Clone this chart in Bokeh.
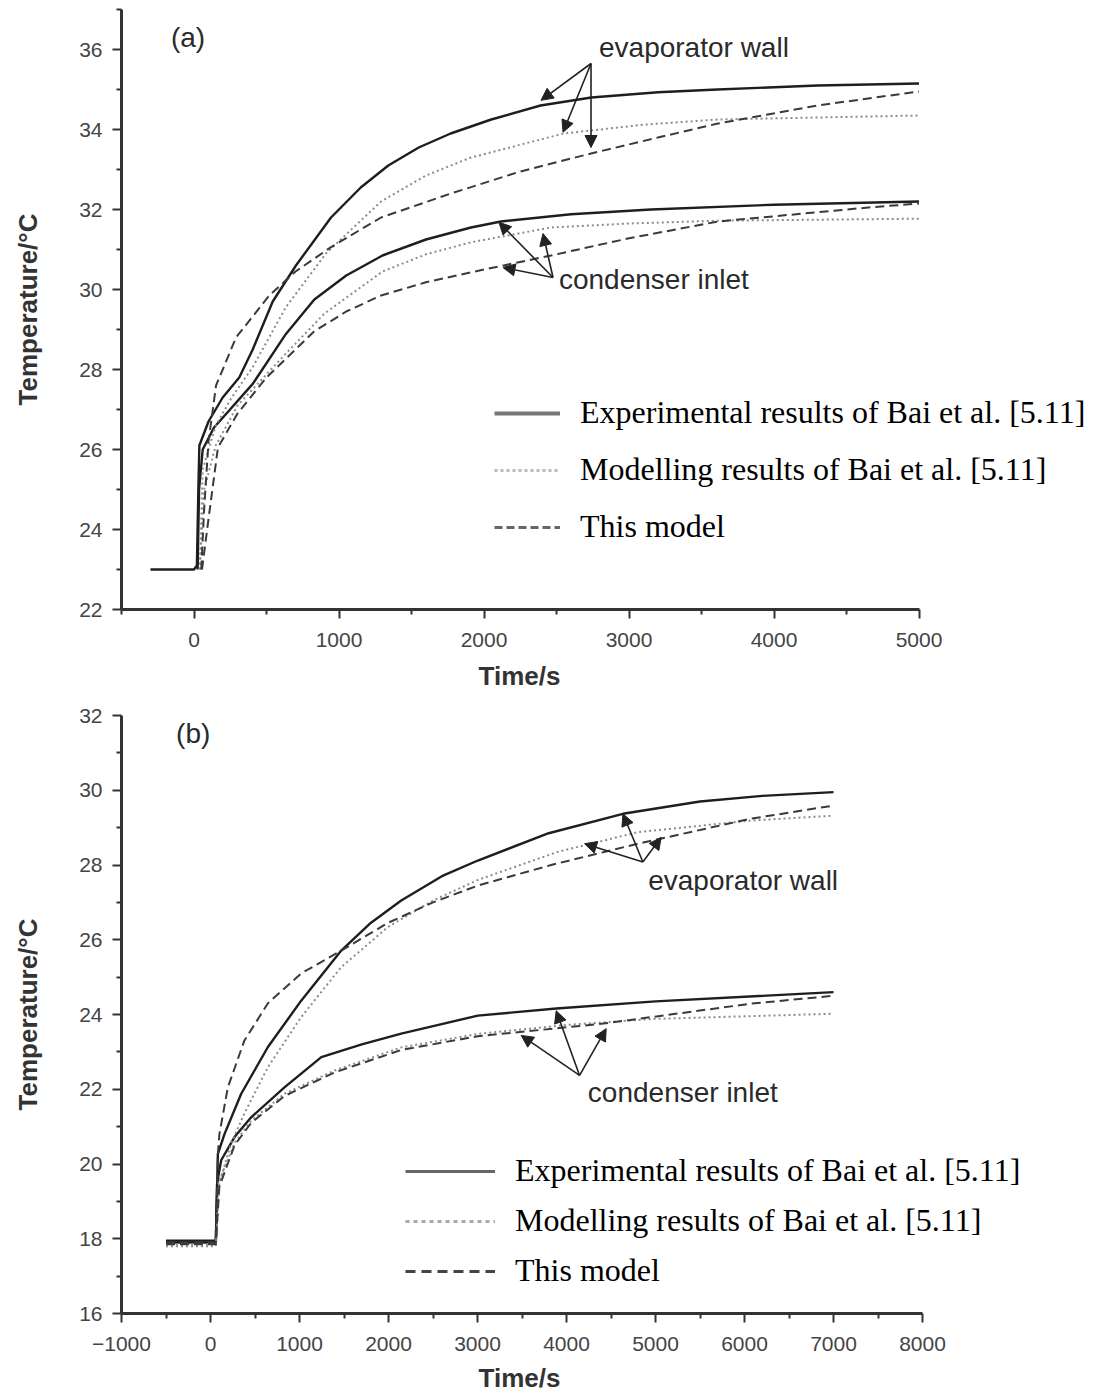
from bokeh.plotting import figure
from bokeh.layouts import column
from bokeh.models import (Range1d, FixedTicker, Label, Arrow, NormalHead,
                          Legend, LegendItem, Title)
from bokeh.embed import file_html
from bokeh.resources import INLINE

# ---------------- Panel (a) data ----------------
a_evap_exp_x = [-300, 0, 20, 30, 37, 100, 198, 312, 405, 543, 703, 945, 1150, 1340, 1550, 1770, 2050, 2390, 2740, 3200, 3610, 4300, 5000]
a_evap_exp_y = [23, 23, 23.1, 25.0, 26.1, 26.7, 27.3, 27.8, 28.5, 29.7, 30.6, 31.8, 32.55, 33.1, 33.55, 33.9, 34.25, 34.6, 34.8, 34.93, 35.0, 35.1, 35.15]
a_evap_mod_x = [40, 60, 150, 260, 405, 634, 910, 1290, 1600, 1910, 2550, 3100, 3610, 5000]
a_evap_mod_y = [23.0, 25.5, 26.6, 27.3, 28.06, 29.56, 30.9, 32.2, 32.85, 33.3, 33.9, 34.12, 34.25, 34.35]
a_evap_this_x = [50, 70, 100, 152, 290, 519, 700, 945, 1290, 1772, 2250, 2738, 3200, 3614, 4300, 5000]
a_evap_this_y = [23.0, 24.5, 26.2, 27.6, 28.8, 29.85, 30.45, 31.06, 31.8, 32.4, 32.95, 33.4, 33.8, 34.15, 34.6, 34.95]
a_cond_exp_x = [25, 35, 60, 138, 244, 405, 634, 830, 1050, 1300, 1600, 1910, 2117, 2600, 3152, 4000, 5000]
a_cond_exp_y = [23.0, 25.0, 26.0, 26.55, 26.98, 27.64, 28.89, 29.75, 30.35, 30.85, 31.25, 31.55, 31.7, 31.88, 32.0, 32.12, 32.2]
a_cond_mod_x = [40, 70, 150, 300, 634, 900, 1300, 1600, 1910, 2462, 3000, 3614, 5000]
a_cond_mod_y = [23.0, 25.0, 26.1, 27.1, 28.4, 29.4, 30.45, 30.88, 31.18, 31.55, 31.65, 31.72, 31.77]
a_cond_this_x = [55, 96, 165, 300, 500, 828, 1050, 1290, 1600, 1910, 2462, 3000, 3614, 4650, 5000]
a_cond_this_y = [23.0, 24.15, 26.05, 26.9, 27.8, 28.95, 29.45, 29.85, 30.18, 30.43, 30.85, 31.28, 31.7, 32.05, 32.15]

a_x_ticks = [0, 1000, 2000, 3000, 4000, 5000]
a_x_minor = [-500, 500, 1500, 2500, 3500, 4500]
a_y_ticks = [22, 24, 26, 28, 30, 32, 34, 36]
a_y_minor = [23, 25, 27, 29, 31, 33, 35, 37]

# annotation anchors (data coords) for panel (a)
a_evap_apex = (2738, 35.65)
a_evap_tips = [(2393, 34.73), (2545, 33.93), (2738, 33.55)]
a_evap_text = (2793, 36.05)
a_cond_apex = (2476, 30.3)
a_cond_tips = [(2103, 31.68), (2407, 31.4), (2131, 30.55)]
a_cond_text = (2517, 30.25)

# ---------------- Panel (b) data ----------------
b_evap_exp_x = [-500, 60, 70, 83, 157, 345, 645, 1019, 1469, 1800, 2143, 2600, 3004, 3800, 4634, 5500, 6200, 7000]
b_evap_exp_y = [17.9, 17.9, 19.0, 20.27, 20.8, 21.88, 23.13, 24.37, 25.71, 26.45, 27.05, 27.7, 28.12, 28.85, 29.37, 29.7, 29.85, 29.95]
b_evap_mod_x = [-500, 60, 100, 232, 380, 645, 1019, 1469, 1993, 2500, 3004, 3900, 4802, 6075, 7000]
b_evap_mod_y = [17.8, 17.8, 19.5, 20.55, 21.35, 22.59, 23.93, 25.27, 26.34, 27.05, 27.6, 28.35, 28.88, 29.19, 29.32]
b_evap_this_x = [-500, 60, 83, 100, 195, 380, 645, 1019, 1469, 1993, 2500, 3004, 3828, 4802, 6075, 7000]
b_evap_this_y = [17.85, 17.85, 20.27, 20.8, 22.05, 23.3, 24.3, 25.1, 25.71, 26.45, 27.0, 27.45, 28.0, 28.57, 29.24, 29.59]
b_cond_exp_x = [-500, 60, 75, 120, 270, 457, 831, 1245, 1700, 2143, 3004, 3884, 5000, 7000]
b_cond_exp_y = [17.95, 17.95, 19.5, 20.1, 20.72, 21.25, 22.05, 22.86, 23.2, 23.49, 23.97, 24.16, 24.35, 24.6]
b_cond_mod_x = [-500, 60, 90, 270, 457, 831, 1393, 2143, 3004, 4000, 4953, 7000]
b_cond_mod_y = [17.85, 17.85, 19.5, 20.56, 21.16, 21.88, 22.5, 23.12, 23.48, 23.72, 23.88, 24.02]
b_cond_this_x = [-500, 60, 100, 270, 457, 831, 1393, 2143, 3004, 4390, 6075, 7000]
b_cond_this_y = [17.9, 17.9, 19.4, 20.5, 21.1, 21.82, 22.45, 23.05, 23.42, 23.75, 24.29, 24.5]

b_x_ticks = [-1000, 0, 1000, 2000, 3000, 4000, 5000, 6000, 7000, 8000]
b_x_minor = [-500, 500, 1500, 2500, 3500, 4500, 5500, 6500, 7500]
b_y_ticks = [16, 18, 20, 22, 24, 26, 28, 30, 32]
b_y_minor = [17, 19, 21, 23, 25, 27, 29, 31]

b_evap_apex = (4858, 28.08)
b_evap_tips = [(4634, 29.37), (4203, 28.57), (5064, 28.74)]
b_evap_text = (4918, 27.59)
b_cond_apex = (4147, 22.37)
b_cond_tips = [(3884, 24.1), (3491, 23.44), (4446, 23.62)]
b_cond_text = (4240, 21.92)

legend_labels = ["Experimental results of Bai et al. [5.11]",
                 "Modelling results of Bai et al. [5.11]",
                 "This model"]

SANS = "Liberation Sans"
SERIF = "Liberation Serif"

SOLID = dict(line_color="#1e1e1e", line_width=2.4)
DOTTED = dict(line_color="#8c8c8c", line_width=2, line_dash="2 3")
DASHED = dict(line_color="#3a3a3a", line_width=2, line_dash="9 5")


def make_fig(xr, xb, yr, fw, fh, top, bottom, xt, xm, yt, ym, s1, s2):
    p = figure(width=None, height=None, frame_width=fw, frame_height=fh,
               x_range=Range1d(*xr), y_range=Range1d(*yr),
               output_backend="svg", toolbar_location=None, title=None,
               min_border_left=121, min_border_right=3,
               min_border_top=top, min_border_bottom=bottom)
    p.outline_line_color = None
    p.xgrid.visible = False
    p.ygrid.visible = False
    p.background_fill_color = "white"
    p.xaxis.ticker = FixedTicker(ticks=xt, minor_ticks=xm)
    p.yaxis.ticker = FixedTicker(ticks=yt, minor_ticks=ym)
    p.xaxis.bounds = xb
    for ax in (p.xaxis[0], p.yaxis[0]):
        ax.axis_line_width = 3
        ax.axis_line_color = "#333333"
        ax.major_tick_line_width = 2
        ax.minor_tick_line_width = 2
        ax.major_tick_line_color = "#333333"
        ax.minor_tick_line_color = "#333333"
        ax.major_tick_out = 9
        ax.major_tick_in = 0
        ax.minor_tick_out = 5
        ax.minor_tick_in = 0
        ax.major_label_text_font = SANS
        ax.major_label_text_font_size = "21px"
        ax.major_label_text_color = "#444444"
        ax.axis_label_text_font = SANS
        ax.axis_label_text_font_size = "26px"
        ax.axis_label_text_font_style = "bold"
        ax.axis_label_text_color = "#333333"
    p.yaxis.axis_label = "Temperature/°C"
    p.xaxis.major_label_standoff = s1
    p.yaxis.major_label_standoff = 10
    p.yaxis.axis_label_standoff = 33
    # x-axis title centred under the bounded axis (frame is wider than the axis)
    p.add_layout(Title(text="Time/s", align="left", offset=357, standoff=s2,
                       text_font=SANS, text_font_size="26px",
                       text_font_style="bold", text_color="#333333"), "below")
    return p


def add_arrows(p, apex, tips):
    for tx, ty in tips:
        p.add_layout(Arrow(x_start=apex[0], y_start=apex[1], x_end=tx, y_end=ty,
                           line_color="#222222", line_width=1.6,
                           end=NormalHead(size=12, fill_color="#222222",
                                          line_color="#222222")))


def add_text(p, pos, txt, size="28px", align="left", font=SANS):
    p.add_layout(Label(x=pos[0], y=pos[1], text=txt, text_font=font,
                       text_font_size=size, text_color="#2a2a2a",
                       text_align=align, text_baseline="middle"))


def add_legend(p, loc, glyph_w, spacing, styles):
    # legend sample renderers: placed far outside the visible range
    rs = [p.line(x=[-1e7, -1e7 + 1], y=[0, 0], **st) for st in styles]
    leg = Legend(items=[LegendItem(label=l, renderers=[r]) for l, r in zip(legend_labels, rs)],
                 location=loc, orientation="vertical",
                 glyph_width=glyph_w, glyph_height=30, label_height=30,
                 label_standoff=20, spacing=spacing, padding=0, margin=0,
                 label_text_font=SERIF, label_text_font_size="32px",
                 label_text_color="black",
                 background_fill_alpha=0, border_line_alpha=0)
    p.add_layout(leg)


# ---------------- Panel (a) ----------------
pa = make_fig((-500, -500 + 969 / 0.145), (-500, 5000), (22, 37), 969, 600, 9, 93,
              a_x_ticks, a_x_minor, a_y_ticks, a_y_minor, 14, 18)
pa.line(a_evap_exp_x, a_evap_exp_y, **SOLID)
pa.line(a_cond_exp_x, a_cond_exp_y, **SOLID)
pa.line(a_evap_mod_x, a_evap_mod_y, **DOTTED)
pa.line(a_cond_mod_x, a_cond_mod_y, **DOTTED)
pa.line(a_evap_this_x, a_evap_this_y, **DASHED)
pa.line(a_cond_this_x, a_cond_this_y, **DASHED)
add_arrows(pa, a_evap_apex, a_evap_tips)
add_arrows(pa, a_cond_apex, a_cond_tips)
add_text(pa, a_evap_text, "evaporator wall")
add_text(pa, a_cond_text, "condenser inlet")
add_text(pa, (-41, 36.3), "(a)", size="28px", align="center")
add_legend(pa, (373, 64), 66, 20,
           [dict(line_color="#777777", line_width=4),
            dict(line_color="#bbbbbb", line_width=3, line_dash="3 3"),
            dict(line_color="#666666", line_width=3, line_dash="8 4")])

# ---------------- Panel (b) ----------------
pb = make_fig((-1000, -1000 + 969 / 0.089), (-1000, 8000), (16, 32), 969, 598, 13, 87,
              b_x_ticks, b_x_minor, b_y_ticks, b_y_minor, 14, 14)
pb.line(b_evap_exp_x, b_evap_exp_y, **SOLID)
pb.line(b_cond_exp_x, b_cond_exp_y, **SOLID)
pb.line(b_evap_mod_x, b_evap_mod_y, **DOTTED)
pb.line(b_cond_mod_x, b_cond_mod_y, **DOTTED)
pb.line(b_evap_this_x, b_evap_this_y, **DASHED)
pb.line(b_cond_this_x, b_cond_this_y, **DASHED)
add_arrows(pb, b_evap_apex, b_evap_tips)
add_arrows(pb, b_cond_apex, b_cond_tips)
add_text(pb, b_evap_text, "evaporator wall")
add_text(pb, b_cond_text, "condenser inlet")
add_text(pb, (-194, 31.52), "(b)", size="28px", align="center")
add_legend(pb, (284, 24), 90, 13,
           [dict(line_color="#666666", line_width=3),
            dict(line_color="#aaaaaa", line_width=3, line_dash="4 4"),
            dict(line_color="#444444", line_width=3, line_dash="10 6")])

layout = column(pa, pb, spacing=0)
open("out.html", "w").write(file_html(layout, INLINE))
